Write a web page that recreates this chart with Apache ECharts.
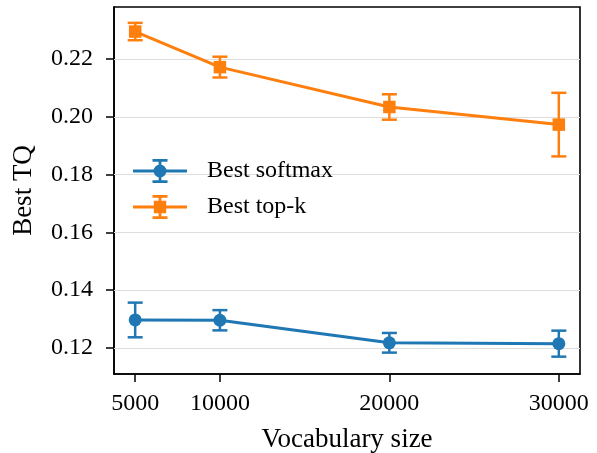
<!DOCTYPE html>
<html><head><meta charset="utf-8">
<script src="https://cdn.jsdelivr.net/npm/echarts@6/dist/echarts.min.js"></script>
<style>html,body{margin:0;padding:0;background:#fff}#c{width:597px;height:453px}</style>
</head><body><div id="c"></div>
<script>
const vocabSizes = [5000, 10000, 20000, 30000];
const softmaxTQ = [0.1297, 0.1296, 0.1218, 0.1215];
const softmaxErr = [0.0060, 0.0035, 0.0034, 0.0045];
const topkTQ = [0.2295, 0.2172, 0.2034, 0.1973];
const topkErr = [0.0030, 0.0036, 0.0044, 0.0110];
const xTicks = [5000, 10000, 20000, 30000];
const yTicks = [0.12, 0.14, 0.16, 0.18, 0.20, 0.22];
const seriesNames = ['Best softmax', 'Best top-k'];

const BLUE = '#1f77b4', ORANGE = '#ff7f0e';
const FONT = 'Liberation Serif';

function errData(vals, errs) {
  return vocabSizes.map((x, i) => [x, vals[i] - errs[i], vals[i] + errs[i]]);
}
function errSeries(name, vals, errs, color) {
  return {
    name: name, type: 'custom', data: errData(vals, errs), z: 3,
    encode: {x: 0, y: [1, 2]},
    renderItem: function (params, api) {
      const x = api.value(0);
      const lo = api.coord([x, api.value(1)]);
      const hi = api.coord([x, api.value(2)]);
      const cw = 7.5;
      const st = {stroke: color, lineWidth: 2.5};
      return {type: 'group', children: [
        {type: 'line', shape: {x1: lo[0], y1: lo[1], x2: hi[0], y2: hi[1]}, style: st},
        {type: 'line', shape: {x1: lo[0] - cw, y1: lo[1], x2: lo[0] + cw, y2: lo[1]}, style: st},
        {type: 'line', shape: {x1: hi[0] - cw, y1: hi[1], x2: hi[0] + cw, y2: hi[1]}, style: st}
      ]};
    }
  };
}
const iconBase = 'M0 10.5 H54 V13.5 H0 Z M25.6 0 H28.4 V24 H25.6 Z M19.5 0 H34.5 V2.8 H19.5 Z M19.5 21.2 H34.5 V24 H19.5 Z ';
const circleIcon = 'path://' + iconBase + 'M33.5 12 A6.5 6.5 0 1 1 20.5 12 A6.5 6.5 0 1 1 33.5 12 Z';
const squareIcon = 'path://' + iconBase + 'M20.8 5.8 H33.2 V18.2 H20.8 Z';

const chart = echarts.init(document.getElementById('c'), null, {renderer: 'canvas'});
chart.setOption({
  animation: false,
  textStyle: {fontFamily: FONT},
  grid: {left: 114, right: 17, top: 7, bottom: 79, show: true, borderColor: '#000', borderWidth: 1.6,
    backgroundColor: 'transparent', containLabel: false, outerBoundsMode: 'none'},
  legend: {
    left: 128, top: 154, orient: 'vertical', itemWidth: 84, itemHeight: 24, itemGap: 12,
    textStyle: {fontFamily: FONT, fontSize: 24, color: '#000'},
    data: [{name: seriesNames[0], icon: circleIcon, itemStyle: {color: BLUE}},
           {name: seriesNames[1], icon: squareIcon, itemStyle: {color: ORANGE}}]
  },
  xAxis: {
    type: 'value', min: 3750, max: 31250,
    name: 'Vocabulary size', nameLocation: 'middle', nameGap: 52,
    nameTextStyle: {fontFamily: FONT, fontSize: 27, color: '#000'},
    axisLine: {show: true, lineStyle: {color: '#000', width: 1.6}},
    axisTick: {show: true, customValues: xTicks, length: 8, lineStyle: {color: '#000', width: 1.5}},
    axisLabel: {customValues: xTicks, margin: 18, fontFamily: FONT, fontSize: 24, color: '#000',
      formatter: v => String(v)},
    splitLine: {show: false}
  },
  yAxis: {
    type: 'value', min: 0.111, max: 0.238,
    name: 'Best TQ', nameLocation: 'middle', nameGap: 77,
    nameTextStyle: {fontFamily: FONT, fontSize: 27, color: '#000'},
    axisLine: {show: true, lineStyle: {color: '#000', width: 1.6}},
    axisTick: {show: true, customValues: yTicks, length: 8, lineStyle: {color: '#000', width: 1.5}},
    axisLabel: {customValues: yTicks, margin: 21, fontFamily: FONT, fontSize: 24, color: '#000',
      formatter: v => v.toFixed(2)},
    splitLine: {show: false}
  },
  series: [
    errSeries(seriesNames[0], softmaxTQ, softmaxErr, BLUE),
    errSeries(seriesNames[1], topkTQ, topkErr, ORANGE),
    {name: seriesNames[0], type: 'line', data: vocabSizes.map((x, i) => [x, softmaxTQ[i]]),
     symbol: 'circle', symbolSize: 13, lineStyle: {color: BLUE, width: 3}, itemStyle: {color: BLUE}, z: 4,
     markLine: {silent: true, symbol: 'none', label: {show: false}, z: 1,
       lineStyle: {color: '#dddddd', width: 1, type: 'solid'},
       data: yTicks.map(v => ({yAxis: v}))}},
    {name: seriesNames[1], type: 'line', data: vocabSizes.map((x, i) => [x, topkTQ[i]]),
     symbol: 'rect', symbolSize: 12.5, lineStyle: {color: ORANGE, width: 3}, itemStyle: {color: ORANGE}, z: 4}
  ]
});
</script></body></html>
